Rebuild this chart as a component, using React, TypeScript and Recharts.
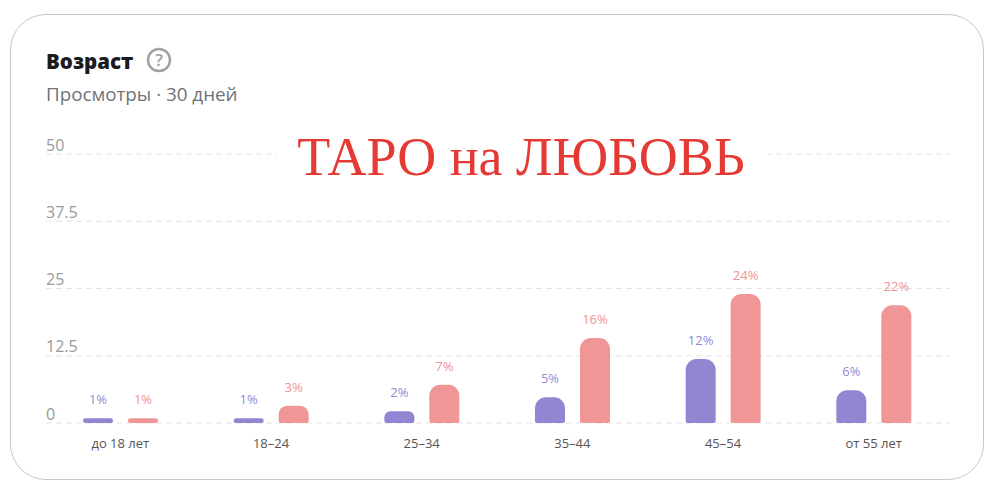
import React from "react";
import { BarChart, Bar, XAxis, YAxis, CartesianGrid, LabelList } from "recharts";

const categories = ["до 18 лет", "18–24", "25–34", "35–44", "45–54", "от 55 лет"];
const firstSeries = [0.9, 0.9, 2.2, 4.8, 11.9, 6.1];
const secondSeries = [0.9, 3.2, 7.1, 15.8, 24, 21.9];
const firstLabels = ["1%", "1%", "2%", "5%", "12%", "6%"];
const secondLabels = ["1%", "3%", "7%", "16%", "24%", "22%"];
const yTicks = [0, 12.5, 25, 37.5, 50];

const data = categories.map((name, i) => ({
  name,
  first: firstSeries[i],
  second: secondSeries[i],
  firstLabel: firstLabels[i],
  secondLabel: secondLabels[i],
}));

const uiFont = '"Open Sans", "Noto Sans", sans-serif';

const YTick = (props: any) => (
  <text x={46} y={props.y - 3.5} fill="#9a9a9a" fontSize={16} fontFamily={uiFont}>
    {props.payload.value}
  </text>
);

const XTick = (props: any) => (
  <text x={props.x} y={props.y + 17} fill="#555555" fontSize={13} fontFamily={uiFont} textAnchor="middle">
    {props.payload.value}
  </text>
);

export default function App() {
  return (
    <div style={{ position: "absolute", left: 0, top: 0, width: 992, height: 489, background: "#fff", overflow: "hidden" }}>
      <div
        style={{
          position: "absolute",
          left: 10,
          top: 14,
          width: 974,
          height: 466,
          boxSizing: "border-box",
          border: "1px solid #c8c8c8",
          borderRadius: 36,
        }}
      />
      <BarChart
        width={992}
        height={489}
        data={data}
        margin={{ top: 154, right: 42, bottom: 65, left: 45 }}
        barSize={30}
        barGap={15}
        style={{ position: "absolute", left: 0, top: 0 }}
      >
        <CartesianGrid horizontal vertical={false} stroke="#e4e4e4" strokeDasharray="6 4" />
        <XAxis dataKey="name" height={1} axisLine={false} tickLine={false} tick={<XTick />} interval={0} padding={{ left: -1, right: 1 }} />
        <YAxis width={1} domain={[0, 50]} ticks={yTicks} axisLine={false} tickLine={false} tick={<YTick />} />
        <Bar dataKey="first" fill="#9286d2" radius={[11, 11, 2, 2]} isAnimationActive={false}>
          <LabelList
            dataKey="firstLabel"
            position="top"
            offset={14}
            fill="#9589d9"
            fontSize={13}
            fontWeight={500}
            fontFamily={uiFont}
          />
        </Bar>
        <Bar dataKey="second" fill="#f09696" radius={[11, 11, 2, 2]} isAnimationActive={false}>
          <LabelList
            dataKey="secondLabel"
            position="top"
            offset={14}
            fill="#f29393"
            fontSize={13}
            fontWeight={500}
            fontFamily={uiFont}
          />
        </Bar>
      </BarChart>
      <div
        style={{
          position: "absolute",
          left: 46,
          top: 47,
          fontFamily: uiFont,
          fontWeight: 800,
          fontSize: 20.5,
          lineHeight: "28px",
          color: "#1b1b22",
        }}
      >
        Возраст
      </div>
      <svg width={28} height={28} style={{ position: "absolute", left: 145, top: 46 }}>
        <circle cx={14} cy={14} r={11} fill="none" stroke="#a0a0a0" strokeWidth={2.4} />
        <text x={14} y={20} textAnchor="middle" fontFamily={uiFont} fontSize={17} fontWeight={600} fill="#a0a0a0">
          ?
        </text>
      </svg>
      <div
        style={{
          position: "absolute",
          left: 46,
          top: 81,
          fontFamily: uiFont,
          fontSize: 18.8,
          lineHeight: "26px",
          color: "#6f7378",
        }}
      >
        Просмотры · 30 дней
      </div>
      <div
        style={{
          position: "absolute",
          left: 278,
          top: 128,
          width: 490,
          height: 56,
          boxSizing: "border-box",
          paddingRight: 4,
          background: "#fff",
          textAlign: "center",
          fontFamily: '"Liberation Serif", serif',
          fontSize: 54,
          lineHeight: "58px",
          color: "#e53a33",
          whiteSpace: "nowrap",
        }}
      >
        ТАРО на ЛЮБОВЬ
      </div>
    </div>
  );
}
